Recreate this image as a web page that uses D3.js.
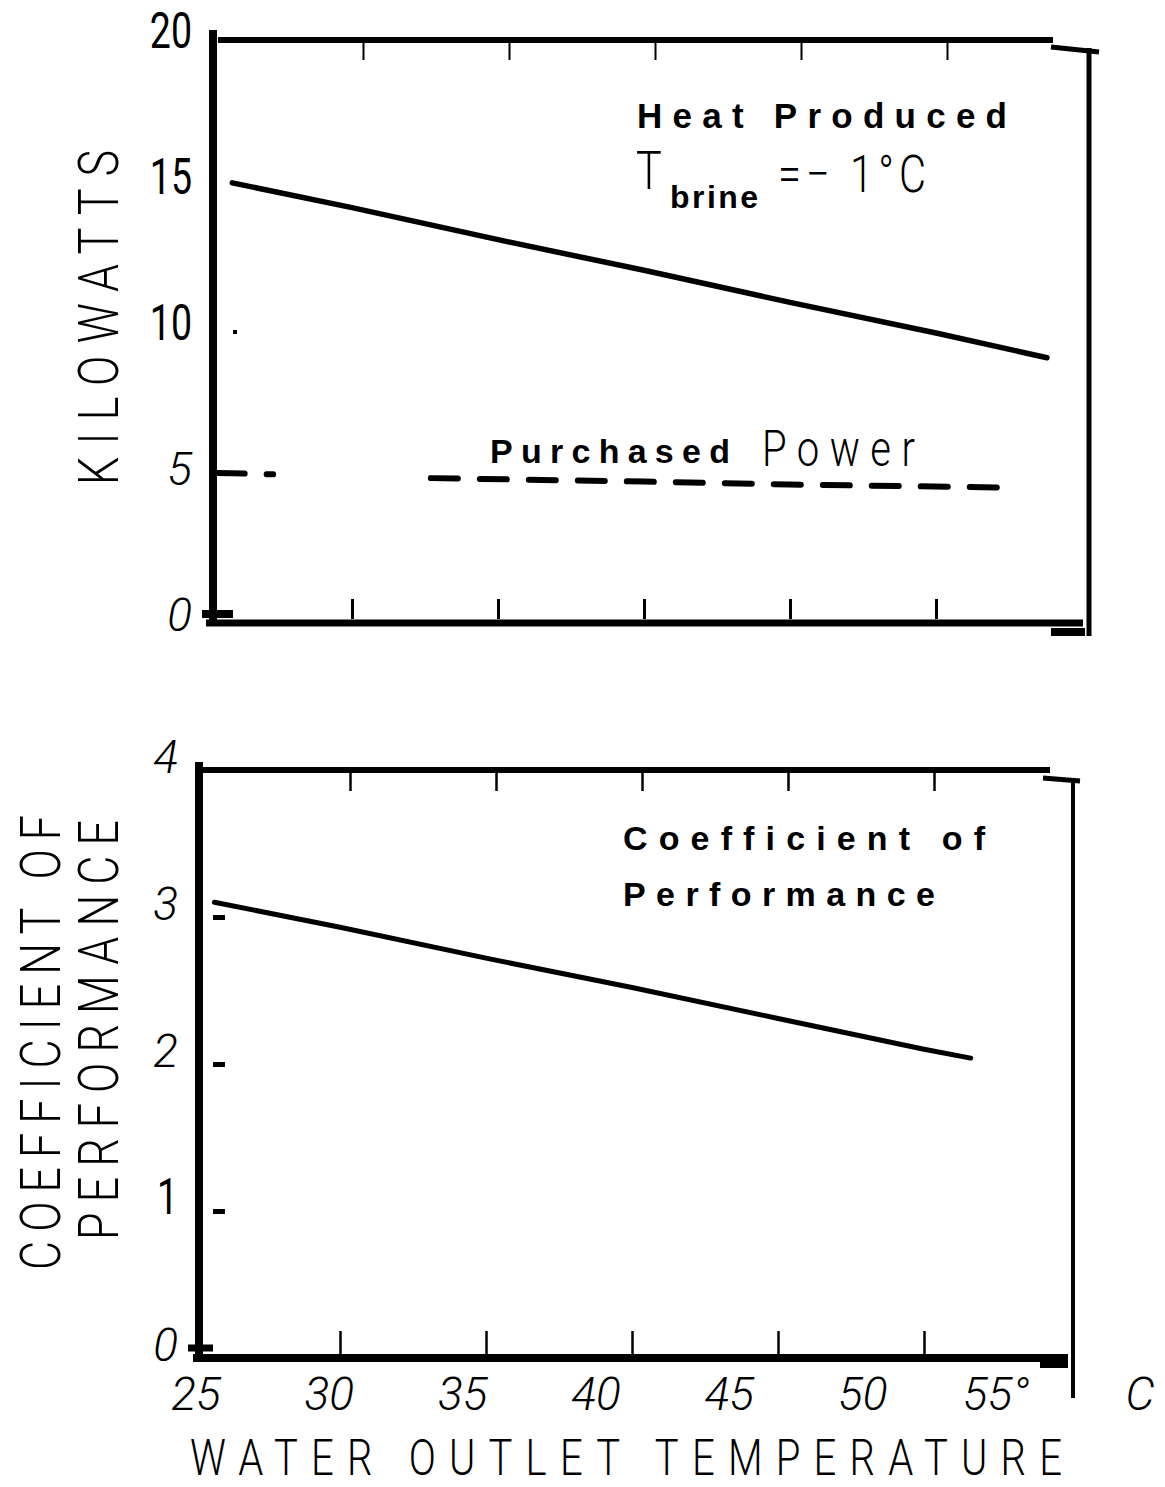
<!DOCTYPE html>
<html>
<head>
<meta charset="utf-8">
<title>Heat pump output vs water outlet temperature</title>
<style>
body { margin: 0; background: #fff; }
svg { display: block; background: #fff; }
.curve { fill: none; stroke: #000; stroke-linecap: round; stroke-linejoin: round; }
.ticks line { stroke: #000; }
.ticks path { display: none; }
.light { font-family: Roboto, "DejaVu Sans", sans-serif; font-weight: 300; }
.plain { font-family: Roboto, "DejaVu Sans", sans-serif; font-weight: 400; }
.thin { font-family: Roboto, "DejaVu Sans", sans-serif; font-weight: 300; font-style: italic; }
.heavy { font-family: "Liberation Sans", Arial, sans-serif; font-weight: bold; }
</style>
</head>
<body>
<svg width="1165" height="1487"></svg>
<script src="https://d3js.org/d3.v7.min.js"></script>
<script>
// values
var tempTicks = [25, 30, 35, 40, 45, 50, 55];
var tempLabels = ["25", "30", "35", "40", "45", "50", "55°"];
var innerTicks = [30, 35, 40, 45, 50];
var kwTicks = [0, 5, 10, 15, 20];
var copTicks = [0, 1, 2, 3, 4];

var heatTemp = [25.9, 30, 35, 40, 45, 50, 53.8];
var heatKw = [15.1, 14.25, 13.15, 12.1, 11.0, 9.95, 9.1];

// gap (null) where the scan only shows a few specks
var powerTemp = [25.4, 27.3, null, 32.7, 40, 45, 52.2];
var powerKw = [5.15, 5.1, null, 4.97, 4.85, 4.75, 4.65];

var copTemp = [25.7, 30, 35, 40, 45, 50, 51.6];
var copValues = [3.1, 2.93, 2.72, 2.52, 2.31, 2.1, 2.04];

var svg = d3.select("svg");

function rule(g, x1, y1, x2, y2, w) {
  g.append("line")
    .attr("x1", x1).attr("y1", y1)
    .attr("x2", x2).attr("y2", y2)
    .attr("stroke", "#000")
    .attr("stroke-width", w);
}

function zip(xs, ys) {
  return xs.map(function(x, i) { return { t: x, v: ys[i] }; });
}

// condensed light lettering of the original: squeeze glyphs, spread them with textLength
function squeezed(g, txt, x, y, size, len, rot) {
  var sx = 0.8;
  var t = g.append("text").attr("class", "light")
    .attr("transform", "translate(" + x + "," + y + ")" + (rot ? " rotate(-90)" : "") + " scale(" + sx + ",1)")
    .attr("font-size", size)
    .text(txt);
  if (len) t.attr("textLength", len / sx).attr("lengthAdjust", "spacing");
  return t;
}

function yLabels(g, ticks, y, xRight, upright, shift) {
  ticks.forEach(function(v) {
    var up = upright.indexOf(v) >= 0;
    g.append("text")
      .attr("class", up ? "plain" : "thin")
      .attr("transform", "translate(" + xRight + "," + (y(v) + shift) + ") scale(" + (up ? 0.75 : 1) + ",1)")
      .attr("text-anchor", "end")
      .attr("font-size", up ? 50 : 46)
      .text(v);
  });
}

// ---------- top panel: kilowatts ----------
var xK = d3.scaleLinear().domain([25, 55]).range([206, 1082]);
var yK = d3.scaleLinear().domain([0, 20]).range([623, 40]);
var kwPanel = svg.append("g");

rule(kwPanel, 213, 30, 213, 622, 8);
rule(kwPanel, 202, 614, 233, 614, 8);
rule(kwPanel, 206, 623, 1083, 623, 7);
rule(kwPanel, 218, 40, 1053, 40, 6);
rule(kwPanel, 1089, 48, 1089, 636, 5);
rule(kwPanel, 1051, 47, 1099, 52, 5);
rule(kwPanel, 1051, 632, 1085, 632, 8);

kwPanel.append("g").attr("class", "ticks")
  .attr("transform", "translate(0,619)")
  .call(d3.axisBottom(xK).tickValues(innerTicks).tickSize(-20).tickFormat(""))
  .selectAll("line").attr("stroke-width", 3);

// the scan is slightly skewed: top-edge ticks sit ~11px right
kwPanel.append("g").attr("class", "ticks")
  .attr("transform", "translate(0,43)")
  .call(d3.axisTop(xK.copy().range([217, 1093])).tickValues(innerTicks).tickSize(-17).tickFormat(""))
  .selectAll("line").attr("stroke-width", 2);

kwPanel.append("g").attr("class", "ticks")
  .attr("transform", "translate(233,0)")
  .call(d3.axisRight(yK).tickValues([10]).tickSize(4).tickFormat(""))
  .selectAll("line").attr("stroke-width", 4);

yLabels(kwPanel, kwTicks, yK, 192, [10, 15, 20], 8);

var lineK = d3.line()
  .defined(function(d) { return d.t != null; })
  .x(function(d) { return xK(d.t); })
  .y(function(d) { return yK(d.v); });

kwPanel.append("path")
  .datum(zip(heatTemp, heatKw))
  .attr("class", "curve")
  .attr("stroke-width", 5.5)
  .attr("d", lineK);

kwPanel.append("path")
  .datum(zip(powerTemp, powerKw))
  .attr("class", "curve")
  .attr("stroke-width", 6)
  .attr("stroke-dasharray", "27 22")
  .attr("d", lineK);

kwPanel.append("text").attr("class", "heavy")
  .attr("x", 637).attr("y", 128).attr("font-size", 35)
  .attr("textLength", 370).attr("lengthAdjust", "spacing")
  .text("Heat Produced");
squeezed(kwPanel, "T", 636, 189, 54);
kwPanel.append("text").attr("class", "heavy")
  .attr("x", 670).attr("y", 208).attr("font-size", 32)
  .attr("textLength", 88).attr("lengthAdjust", "spacing")
  .text("brine");
squeezed(kwPanel, "=− 1°C", 778, 192, 52, 148);

kwPanel.append("text").attr("class", "heavy")
  .attr("x", 490).attr("y", 463).attr("font-size", 34)
  .attr("textLength", 240).attr("lengthAdjust", "spacing")
  .text("Purchased");
squeezed(kwPanel, "Power", 762, 466, 50, 153);

squeezed(kwPanel, "KILOWATTS", 118, 485, 56, 335, true);

// ---------- bottom panel: coefficient of performance ----------
var xC = d3.scaleLinear().domain([25, 55]).range([194, 1070]);
var yC = d3.scaleLinear().domain([0, 4]).range([1358, 770]);
var copPanel = svg.append("g");

rule(copPanel, 199, 762, 199, 1355, 8);
rule(copPanel, 188, 1348, 213, 1348, 7);
rule(copPanel, 193, 1358, 1068, 1358, 8);
rule(copPanel, 203, 770, 1050, 770, 6);
rule(copPanel, 1073, 782, 1073, 1398, 4);
rule(copPanel, 1043, 778, 1080, 781, 5);
rule(copPanel, 1040, 1364, 1068, 1364, 8);

copPanel.append("g").attr("class", "ticks")
  .attr("transform", "translate(0,1354)")
  .call(d3.axisBottom(xC).tickValues(innerTicks).tickSize(-23).tickFormat(""))
  .selectAll("line").attr("stroke-width", 2.5);

copPanel.append("g").attr("class", "ticks")
  .attr("transform", "translate(0,773)")
  .call(d3.axisTop(xC.copy().range([204, 1080])).tickValues(innerTicks).tickSize(-18).tickFormat(""))
  .selectAll("line").attr("stroke-width", 2.5);

copPanel.append("g").attr("class", "ticks")
  .attr("transform", "translate(213,0)")
  .call(d3.axisRight(yC).tickValues([1, 2, 3]).tickSize(12).tickFormat(""))
  .selectAll("line").attr("stroke-width", 5);

yLabels(copPanel, copTicks, yC, 178, [1], 3);

var lineC = d3.line()
  .x(function(d) { return xC(d.t); })
  .y(function(d) { return yC(d.v); });

copPanel.append("path")
  .datum(zip(copTemp, copValues))
  .attr("class", "curve")
  .attr("stroke-width", 5)
  .attr("d", lineC);

copPanel.append("text").attr("class", "heavy")
  .attr("x", 623).attr("y", 850).attr("font-size", 34)
  .attr("textLength", 362).attr("lengthAdjust", "spacing")
  .text("Coefficient of");
copPanel.append("text").attr("class", "heavy")
  .attr("x", 623).attr("y", 906).attr("font-size", 34)
  .attr("textLength", 312).attr("lengthAdjust", "spacing")
  .text("Performance");

squeezed(copPanel, "COEFFICIENT OF", 60, 1270, 56, 455, true);
squeezed(copPanel, "PERFORMANCE", 118, 1240, 56, 420, true);

// x tick labels drift from the tick marks in the original, so they get their own scale
var xLab = d3.scaleLinear().domain([25, 55]).range([196, 996]);
copPanel.selectAll(".xlab")
  .data(tempTicks)
  .enter().append("text")
  .attr("class", "thin xlab")
  .attr("x", function(d) { return xLab(d); })
  .attr("y", 1410)
  .attr("text-anchor", "middle")
  .attr("font-size", 46)
  .text(function(d, i) { return tempLabels[i]; });

copPanel.append("text").attr("class", "thin")
  .attr("x", 1140).attr("y", 1410)
  .attr("text-anchor", "middle")
  .attr("font-size", 46)
  .text("C");

squeezed(copPanel, "WATER OUTLET TEMPERATURE", 190, 1475, 50, 872);
</script>
</body>
</html>
